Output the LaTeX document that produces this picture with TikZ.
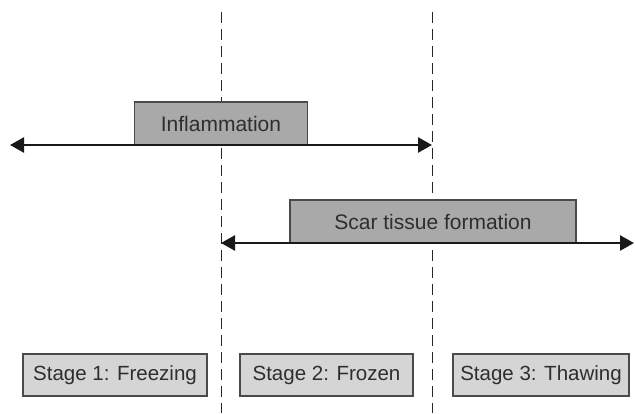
\documentclass[tikz,border=0pt]{standalone}
\usepackage{fontspec}
\setmainfont{Liberation Sans}
\usetikzlibrary{arrows.meta}
\definecolor{boxdark}{HTML}{A9A9A9}
\definecolor{boxlight}{HTML}{D5D5D5}
\definecolor{edgegray}{HTML}{4A4A4A}
\definecolor{txt}{HTML}{2E2E2E}
\tikzset{
  phasebox/.style={draw=edgegray, line width=1.2pt, fill=boxdark, text=txt, font=\fontsize{21}{24}\selectfont, inner sep=0pt},
  stagebox/.style={draw=edgegray, line width=1.2pt, fill=boxlight, text=txt, font=\fontsize{20.5}{24}\selectfont, inner sep=0pt},
  divider/.style={draw=black!85, line width=0.9pt, dash pattern=on 11pt off 6pt},
  span/.style={draw=black!90, line width=2.6pt, {Triangle[length=14pt,width=15pt]}-{Triangle[length=14pt,width=15pt]}, shorten <=0pt, shorten >=0pt}
}
\begin{document}
\begin{tikzpicture}[x=1pt,y=-1pt]
\useasboundingbox (0,0) rectangle (635,413);
% dashed dividers
\coordinate (d1t) at (221,12);
\coordinate (d1b) at (221,413);
\coordinate (d2t) at (432,12);
\coordinate (d2b) at (432,413);
\draw[divider] (d1t) -- (d1b);
\draw[divider] (d2t) -- (d2b);
% phase boxes
\node[phasebox, minimum width=173pt, minimum height=43pt] (infl) at (221,123.5) {Inflammation};
\node[phasebox, minimum width=286pt, minimum height=43pt] (scar) at (433,221.5) {Scar tissue formation};
% span arrows
\coordinate (a1l) at (10,145);
\coordinate (a1r) at (432,145);
\coordinate (a2l) at (221,243);
\coordinate (a2r) at (634,243);
\draw[span] (a1l) -- (a1r);
\draw[span] (a2l) -- (a2r);
% stage boxes
\node[stagebox, minimum width=184pt, minimum height=42pt] (s1) at (115,375) {Stage 1: Freezing};
\node[stagebox, minimum width=173pt, minimum height=42pt] (s2) at (326.5,375) {Stage 2: Frozen};
\node[stagebox, minimum width=176pt, minimum height=42pt] (s3) at (541,375) {Stage 3: Thawing};
\end{tikzpicture}
\end{document}
